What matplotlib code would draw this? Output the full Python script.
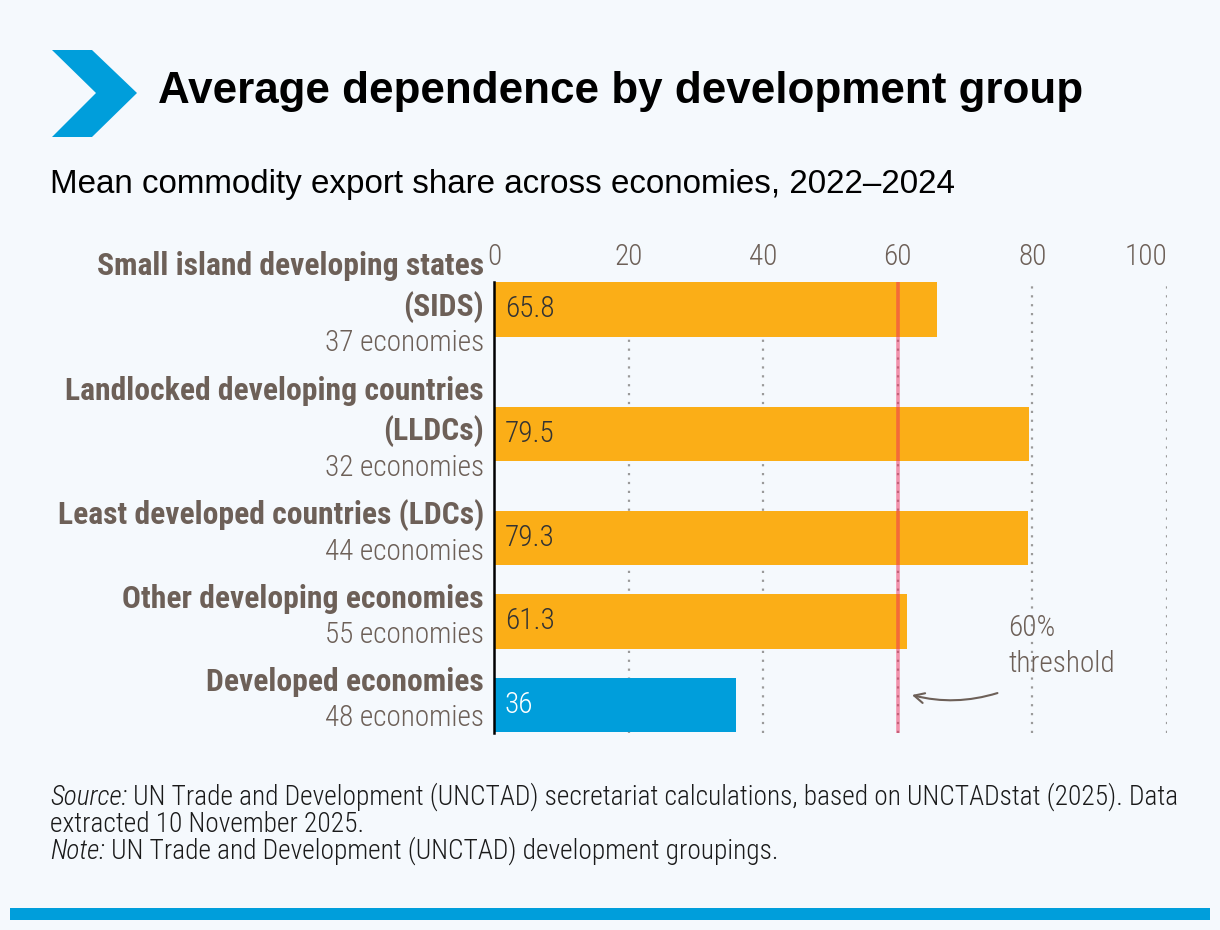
import matplotlib
matplotlib.use("Agg")
import numpy as np
from matplotlib import pyplot as plt
from matplotlib.patches import Polygon, Rectangle

# data
groups = ["Small island developing states\n(SIDS)",
          "Landlocked developing countries\n(LLDCs)",
          "Least developed countries (LDCs)",
          "Other developing economies",
          "Developed economies"]
n_economies = [37, 32, 44, 55, 48]
values = [65.8, 79.5, 79.3, 61.3, 36]
value_labels = ["65.8", "79.5", "79.3", "61.3", "36"]
threshold = 60
ticks = [0, 20, 40, 60, 80, 100]

title = "Average dependence by development group"
subtitle = "Mean commodity export share across economies, 2022\u20132024"
source = [("Source:", " UN Trade and Development (UNCTAD) secretariat calculations, based on UNCTADstat (2025). Data"),
          ("", "extracted 10 November 2025."),
          ("Note:", " UN Trade and Development (UNCTAD) development groupings.")]

BG = "#f5f9fd"
ORANGE = "#fbae17"
BLUE = "#009edb"
GREY = "#6d6058"
NARROW = ["Roboto Condensed", "Archivo Narrow", "DejaVu Sans"]
SANS = ["Liberation Sans", "DejaVu Sans"]

fig = plt.figure(figsize=(12.2, 9.3), dpi=100)
fig.patch.set_facecolor(BG)

# background axes in pixel coordinates for decorations and texts
bg = fig.add_axes([0, 0, 1, 1])
bg.set_xlim(0, 1220)
bg.set_ylim(930, 0)
bg.axis("off")
bg.patch.set_alpha(0)

renderer = fig.canvas.get_renderer()


def width_of(t):
    return t.get_window_extent(renderer).width


def fit(t, width):
    # scale font size so the text takes the given pixel width
    t.set_fontsize(t.get_fontsize() * width / width_of(t))


bg.add_patch(Polygon([(52, 50), (92, 50), (137, 93), (92, 137), (52, 137), (96, 93)],
                     closed=True, color=BLUE, lw=0))
t = bg.text(158, 91, title, fontsize=28, fontweight="bold", family=SANS,
            color="black", va="center", ha="left")
fit(t, 924)
t = bg.text(50, 184, subtitle, fontsize=20, family=SANS, color="black",
            va="center", ha="left")
fit(t, 903)


def draw_source(fs):
    out = []
    for i, (it, rest) in enumerate(source):
        y = 797 + i * 27
        x = 50
        if it:
            ti = bg.text(x, y, it, fontsize=fs, family=NARROW, style="italic",
                         fontweight="light", color="#1a1a1a", va="center", ha="left")
            out.append(ti)
            x += width_of(ti)
        out.append(bg.text(x, y, rest, fontsize=fs, family=NARROW, fontweight="light",
                           color="#1a1a1a", va="center", ha="left"))
    return out


tmp = draw_source(17)
w = width_of(tmp[0]) + width_of(tmp[1])
for t in tmp:
    t.remove()
draw_source(17 * 1133 / w)

bg.add_patch(Rectangle((10, 908), 1200, 12, color=BLUE, lw=0))

# label font sizes from reference widths
t = bg.text(0, 0, "Small island developing states", fontsize=20, fontweight="bold", family=NARROW)
fs_bold = 20 * 386 / width_of(t)
t.remove()
t = bg.text(0, 0, "37 economies", fontsize=20, fontweight="light", family=NARROW)
fs_reg = 20 * 159 / width_of(t)
t.remove()

# main chart
ax = fig.add_axes([494 / 1220, (930 - 733) / 930, 673 / 1220, 451 / 930])
ax.set_facecolor("none")

n_lines = [g.count("\n") + 2 for g in groups]
slot_top = np.concatenate([[0], np.cumsum(n_lines)[:-1]])
centers = slot_top + np.array(n_lines) / 2
colors = [ORANGE] * 4 + [BLUE]

ax.barh(centers, values, height=1.3, color=colors, zorder=2)
ax.set_xlim(0, 100)
ax.set_ylim(11.68, 0.84)

for v, c, lab, col in zip(values, centers, value_labels, colors):
    ax.text(1.6, c, lab, fontsize=fs_reg, fontweight="light", family=NARROW,
            color="white" if col == BLUE else "#333333", va="center", ha="left", zorder=4)

ytr = ax.get_yaxis_transform()
for g, n, s in zip(groups, n_economies, slot_top):
    parts = g.split("\n")
    for k, p in enumerate(parts):
        ax.text(-0.015, s + 0.45 + k * 0.98, p, transform=ytr, fontsize=fs_bold,
                fontweight="bold", family=NARROW, color=GREY, ha="right", va="center")
    ax.text(-0.015, s + 0.45 + (len(parts) - 1) * 0.98 + 0.88, f"{n} economies",
            transform=ytr, fontsize=fs_reg, fontweight="light", family=NARROW,
            color=GREY, ha="right", va="center")

# grid, threshold
for x in ticks[1:]:
    ax.axvline(x, color="#9a9a9a", lw=1.6, ls=(0, (1, 3)), zorder=1)
ax.axvline(threshold, color="#ee2a5a", alpha=0.5, lw=2.6, zorder=3)

ax.xaxis.tick_top()
ax.set_xticks(ticks)
ax.set_xticklabels([str(x) for x in ticks])
ax.tick_params(axis="x", length=0, pad=8, labelsize=fs_reg, labelcolor=GREY)
for lab in ax.get_xticklabels():
    lab.set_family(NARROW)
    lab.set_fontweight("light")
ax.get_xticklabels()[-1].set_ha("right")
ax.set_yticks([])
for s in ["top", "right", "bottom"]:
    ax.spines[s].set_visible(False)
ax.spines["left"].set_linewidth(1.8)
ax.spines["left"].set_color("black")

ax.text(76.4, 9.16, "60%", fontsize=fs_reg, fontweight="light", family=NARROW,
        color=GREY, va="center", ha="left")
ax.text(76.4, 10.02, "threshold", fontsize=fs_reg, fontweight="light", family=NARROW,
        color=GREY, va="center", ha="left")
ax.annotate("", xy=(61.7, 10.75), xytext=(75.2, 10.7),
            arrowprops=dict(arrowstyle="->", color=GREY, lw=1.5,
                            connectionstyle="arc3,rad=-0.15", mutation_scale=18))

fig.savefig("out.png", dpi=100, facecolor=BG)
